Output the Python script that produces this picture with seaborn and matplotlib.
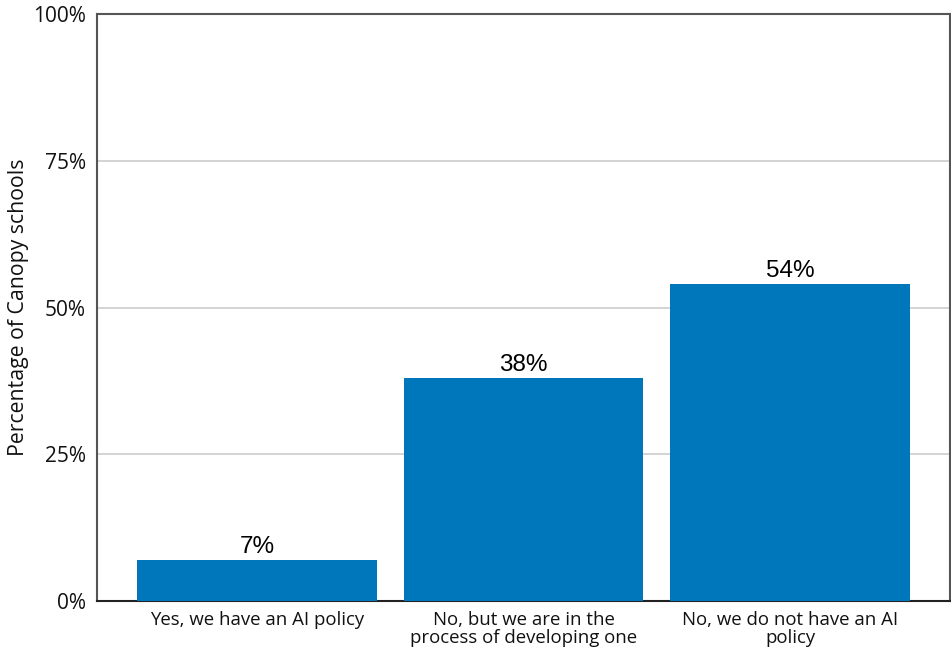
import matplotlib
matplotlib.use("Agg")
import matplotlib.pyplot as plt
from matplotlib.ticker import FuncFormatter
import seaborn as sns
import pandas as pd

categories = [
    "Yes, we have an AI policy",
    "No, but we are in the\nprocess of developing one",
    "No, we do not have an AI\npolicy",
]
percentages = [7, 38, 54]
y_ticks = [0, 25, 50, 75, 100]

df = pd.DataFrame({"category": categories, "pct": percentages})

sns.set_theme(style="white")
plt.rcParams["font.family"] = ["Open Sans", "DejaVu Sans"]

fig = plt.figure(figsize=(9.51, 6.48), dpi=100)
ax = fig.add_axes([0.102, 0.0725, 0.897, 0.9055])

sns.barplot(data=df, x="category", y="pct", color="#0077BB", saturation=1,
            width=0.9, linewidth=0, ax=ax, zorder=3)

ax.set_xlim(-0.6, 2.6)
ax.set_ylim(0, 100)
ax.set_yticks(y_ticks)
ax.yaxis.set_major_formatter(FuncFormatter(lambda v, _: f"{v:.0f}%"))
ax.grid(axis="y", color="#cccccc", linewidth=1.2, zorder=0)
ax.set_xlabel("")
ax.set_ylabel("Percentage of Canopy schools", fontsize=15.3, color="#111111",
              labelpad=3)
ax.tick_params(axis="y", labelsize=15, colors="#111111", length=0, pad=8)
ax.tick_params(axis="x", labelsize=13.4, colors="#111111", length=0, pad=7)
for lbl in ax.get_xticklabels():
    lbl.set_linespacing(1.0)

for side in ["left", "top", "right"]:
    ax.spines[side].set_color("#555555")
    ax.spines[side].set_linewidth(1.5)
ax.spines["bottom"].set_color("#222222")
ax.spines["bottom"].set_linewidth(1.5)

for i, v in enumerate(percentages):
    ax.text(i, v + 0.4, f"{v}%", ha="center", va="bottom", fontsize=17.5,
            family="Liberation Sans", color="#000000")

fig.savefig("out.png", dpi=100)
